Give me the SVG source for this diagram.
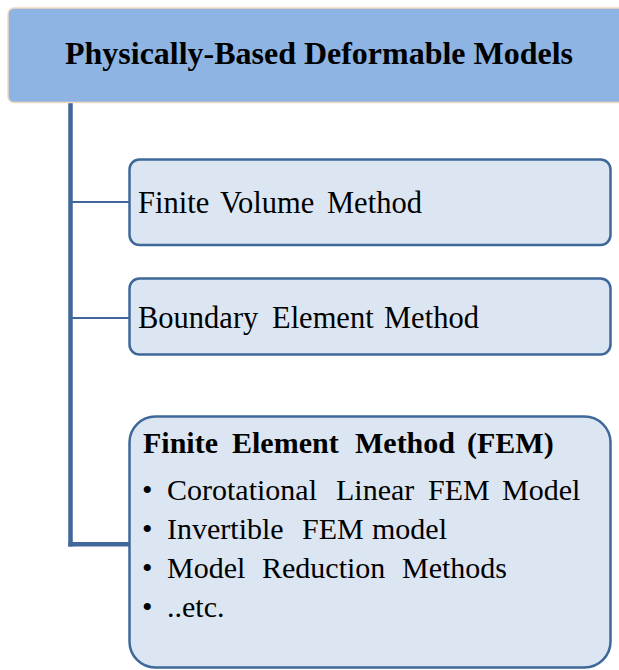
<svg xmlns="http://www.w3.org/2000/svg" width="619" height="670" viewBox="0 0 619 670">
<style>
.box{fill:#DCE6F2;stroke:#3E6899;stroke-width:2.5}
.t{fill:#000}
.r{font-size:30.5px}
.b{font-weight:bold}
.conn{stroke:#41689A;fill:none}
</style>
<rect width="619" height="670" fill="#fff"/>
<g id="connectors">
<line class="conn" x1="70.5" y1="102" x2="70.5" y2="546.5" stroke-width="4.5"/>
<line class="conn" x1="70" y1="202" x2="130" y2="202" stroke-width="2"/>
<line class="conn" x1="70" y1="318" x2="130" y2="318" stroke-width="2"/>
<line class="conn" x1="68.3" y1="544.3" x2="130" y2="544.3" stroke-width="4.5"/>
</g>
<g font-family="'Liberation Serif', 'Times New Roman', Tinos, serif">
<g id="root">
<rect x="8" y="8" width="650" height="94.5" rx="6" fill="#8EB4E3" stroke="#F4D9C0" stroke-width="1.5"/>
<text class="t b" x="65" y="64" font-size="32" textLength="508" lengthAdjust="spacingAndGlyphs">Physically-Based Deformable Models</text>
</g>
<g id="fvm">
<rect class="box" x="129.5" y="159.5" width="481" height="85.5" rx="10"/>
<text class="t r" y="213"><tspan x="138">Finite</tspan><tspan x="220">Volume</tspan><tspan x="327">Method</tspan></text>
</g>
<g id="bem">
<rect class="box" x="129.5" y="278.5" width="481" height="76" rx="10"/>
<text class="t r" y="328"><tspan x="138">Boundary</tspan><tspan x="272">Element</tspan><tspan x="384">Method</tspan></text>
</g>
<g id="fem">
<rect class="box" x="129.5" y="416.5" width="481" height="251" rx="26"/>
<text class="t b" y="453" font-size="30"><tspan x="143">Finite</tspan><tspan x="232">Element</tspan><tspan x="355">Method</tspan><tspan x="467">(FEM)</tspan></text>
<text class="t" font-size="30" y="500"><tspan x="142">•</tspan><tspan x="167">Corotational</tspan><tspan x="336">Linear</tspan><tspan x="428">FEM</tspan><tspan x="502">Model</tspan></text>
<text class="t" font-size="30" y="539"><tspan x="142">•</tspan><tspan x="167">Invertible</tspan><tspan x="302">FEM</tspan><tspan x="372">model</tspan></text>
<text class="t" font-size="30" y="578"><tspan x="142">•</tspan><tspan x="167">Model</tspan><tspan x="262">Reduction</tspan><tspan x="402">Methods</tspan></text>
<text class="t" font-size="30" y="617"><tspan x="142">•</tspan><tspan x="167">..etc.</tspan></text>
</g>
</g>
</svg>
